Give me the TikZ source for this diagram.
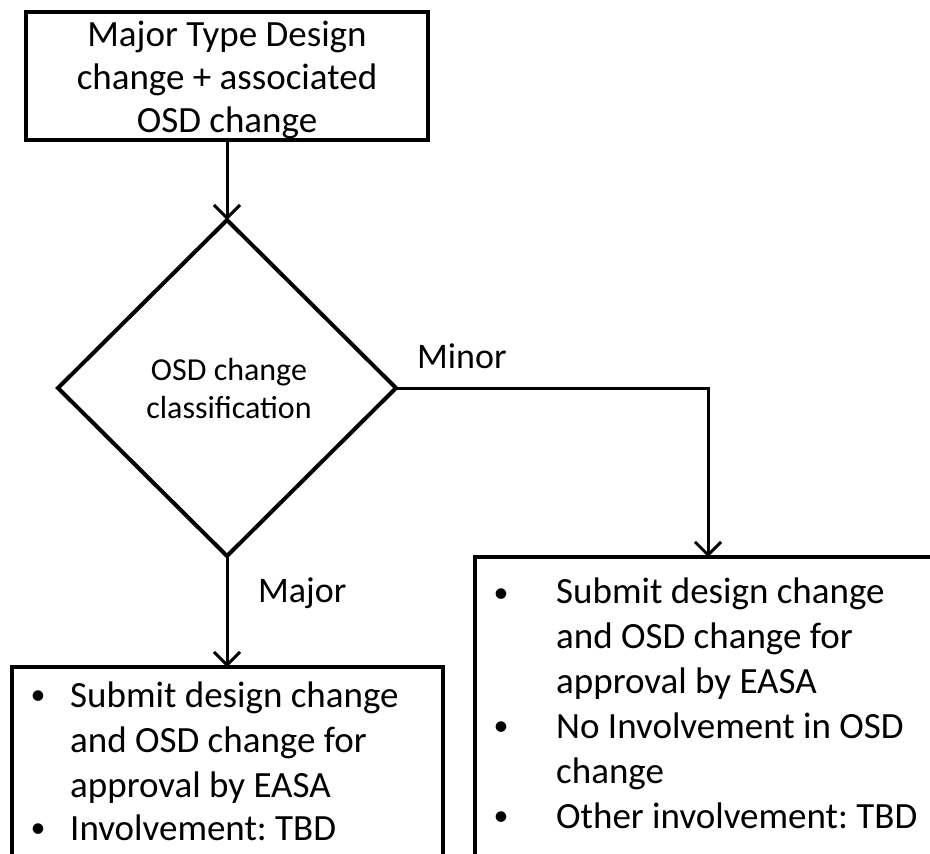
\documentclass[tikz,border=0pt]{standalone}
\usepackage{fontspec}
\setmainfont{Carlito}
\usetikzlibrary{shapes.geometric,arrows.meta}
\frenchspacing
\begin{document}
\begin{tikzpicture}[x=1pt,y=-1pt,
  box/.style={draw,line width=4pt,rectangle,inner sep=0pt,outer sep=0pt},
  conn/.style={line width=3pt,-{Straight Barb[length=13pt,width=26pt]}},
  toptxt/.style={font=\fontsize{37}{43}\selectfont,inner sep=0pt,align=center,anchor=base},
  diatxt/.style={font=\fontsize{32}{38}\selectfont,inner sep=0pt,align=center,anchor=base},
  lbl/.style={font=\fontsize{36}{40}\selectfont,inner sep=0pt},
  btxt/.style={font=\fontsize{37}{45}\selectfont\frenchspacing,inner sep=0pt,align=left,anchor=base west},
  bul/.style={font=\fontsize{30}{45}\selectfont,inner sep=0pt,anchor=base,yshift=2.5pt}]
\useasboundingbox (0,0) rectangle (930,854);
\clip (0,0) rectangle (930,854);
\fill[white] (0,0) rectangle (930,854);
\node[box,minimum width=402pt,minimum height=128pt] (top) at (227,76) {};
\node[toptxt] (toptext) at (227,132) {Major Type Design\\change + associated\\OSD change};
\node[diamond,draw,line width=4pt,minimum width=338pt,minimum height=336pt,inner sep=0pt,outer sep=0pt] (dia) at (227,388) {};
\node[diatxt] (diatext) at (229,418) {OSD change\\classification};
\node[box,anchor=north west,minimum width=431pt,minimum height=300pt] (lbox) at (12,667) {};
\node[box,anchor=north west,minimum width=500pt,minimum height=350pt] (rbox) at (475,557) {};
\draw[conn] (top.south) -- (dia.north);
\draw[conn] (dia.east) -| ([xshift=233pt]rbox.north west);
\draw[conn] (dia.south) -- (dia.south |- lbox.north);
\node[lbl,anchor=base west] (minor) at (417,368) {Minor};
\node[lbl,anchor=base west] (major) at (258,602) {Major};
\node[bul] (lb1) at (38,707) {•};
\node[btxt] (lt1) at (70,797) {Submit design change\\and OSD change for\\approval by EASA};
\node[bul] (lb2) at (38,840) {•};
\node[btxt] (lt2) at (70,840) {Involvement: TBD};
\node[bul] (rb1) at (501,605) {•};
\node[btxt] (rt1) at (556,693) {Submit design change\\and OSD change for\\approval by EASA};
\node[bul] (rb2) at (501,738) {•};
\node[btxt] (rt2) at (556,783) {No Involvement in OSD\\change};
\node[bul] (rb3) at (501,828) {•};
\node[btxt] (rt3) at (556,828) {Other involvement: TBD};
\end{tikzpicture}
\end{document}
